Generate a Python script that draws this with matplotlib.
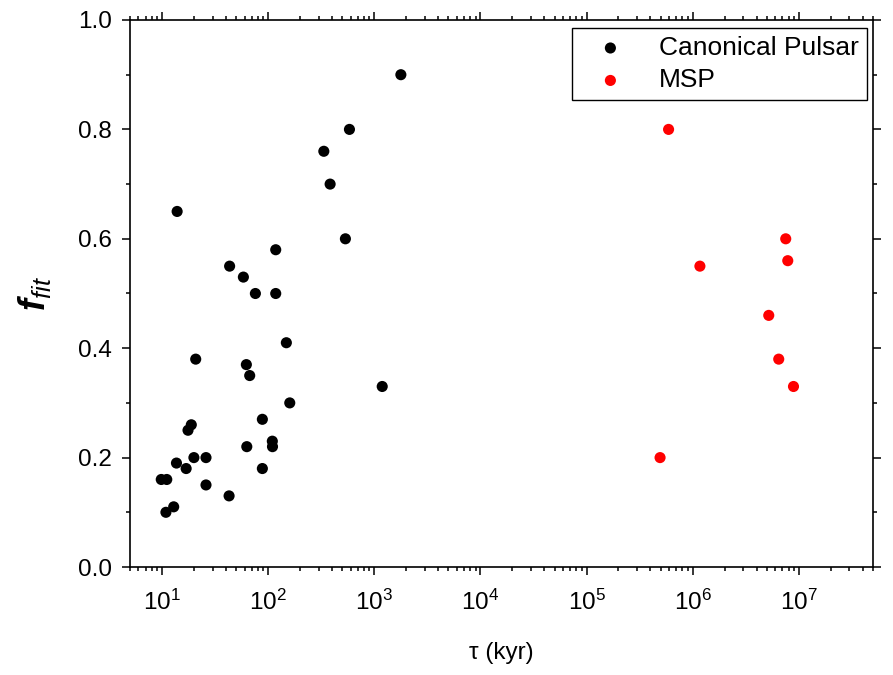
import matplotlib
matplotlib.use("Agg")
import matplotlib.pyplot as plt
import matplotlib.ticker as ptick

# canonical pulsars: characteristic age (kyr) and fitted f
canon_tau = [13.9, 118, 43.4, 58.5, 75.9, 118, 148.6, 20.8, 62.4, 67.1,
             160, 88.3, 18.9, 17.6, 109.6, 110, 63, 20, 26, 13.7,
             16.9, 88.3, 9.85, 11.1, 26, 42.9, 12.9, 10.9,
             1782, 584, 335, 384, 535, 1189]
canon_f = [0.65, 0.58, 0.55, 0.53, 0.50, 0.50, 0.41, 0.38, 0.37, 0.35,
           0.30, 0.27, 0.26, 0.25, 0.23, 0.22, 0.22, 0.20, 0.20, 0.19,
           0.18, 0.18, 0.16, 0.16, 0.15, 0.13, 0.11, 0.10,
           0.90, 0.80, 0.76, 0.70, 0.60, 0.33]

# millisecond pulsars
msp_tau = [5.93e5, 7.53e6, 7.87e6, 1.17e6, 5.21e6, 6.47e6, 8.91e6, 4.93e5]
msp_f = [0.80, 0.60, 0.56, 0.55, 0.46, 0.38, 0.33, 0.20]

x_major = [1e1, 1e2, 1e3, 1e4, 1e5, 1e6, 1e7]

plt.rcParams['font.family'] = 'Liberation Sans'
plt.rcParams['mathtext.fontset'] = 'custom'
plt.rcParams['mathtext.rm'] = 'Liberation Sans'
plt.rcParams['mathtext.it'] = 'Liberation Sans:italic'
plt.rcParams['mathtext.bf'] = 'Liberation Sans:bold'
plt.rcParams['mathtext.bfit'] = 'Liberation Sans:italic:bold'

fig = plt.figure(figsize=(8.93, 6.75), dpi=100)
ax = fig.add_axes([130 / 893, 108 / 675, 743 / 893, 547 / 675])

ax.scatter(canon_tau, canon_f, s=64, color='black', label='Canonical Pulsar',
           edgecolors='none', zorder=3)
ax.scatter(msp_tau, msp_f, s=64, color='red', label='MSP',
           edgecolors='none', zorder=3)

ax.set_xscale('log')
ax.set_xlim(5, 5e7)
ax.set_ylim(0, 1.0)
ax.xaxis.set_major_locator(ptick.FixedLocator(x_major))
ax.xaxis.set_major_formatter(ptick.LogFormatterSciNotation())
ax.xaxis.set_minor_locator(ptick.LogLocator(base=10, subs=range(2, 10), numticks=20))
ax.xaxis.set_minor_formatter(ptick.NullFormatter())
ax.yaxis.set_major_locator(ptick.MultipleLocator(0.2))
ax.yaxis.set_minor_locator(ptick.MultipleLocator(0.1))
ax.yaxis.set_major_formatter(ptick.FormatStrFormatter('%.1f'))

for sp in ax.spines.values():
    sp.set_linewidth(1.2)
ax.tick_params(which='both', direction='out', top=True, right=True,
               width=1.1, labelsize=17.5)
ax.tick_params(which='major', length=6)
ax.tick_params(which='minor', length=3)
ax.tick_params(axis='x', pad=10)
ax.tick_params(axis='y', pad=7)

ax.set_xlabel(r'τ (kyr)', fontsize=17.5, labelpad=20)
ax.set_ylabel(r'$\mathbfit{f}_{\mathit{fit}}$', fontsize=26, labelpad=18)

leg = ax.legend(loc='upper right', bbox_to_anchor=(867 / 893, 647 / 675),
                bbox_transform=fig.transFigure, fontsize=19, markerscale=1.0,
                fancybox=False, edgecolor='black', framealpha=1,
                borderpad=0.3, handlelength=2.3, handletextpad=0.7,
                borderaxespad=0, labelspacing=0.32)
leg.get_frame().set_linewidth(1.0)

fig.savefig('out.png', dpi=100)
